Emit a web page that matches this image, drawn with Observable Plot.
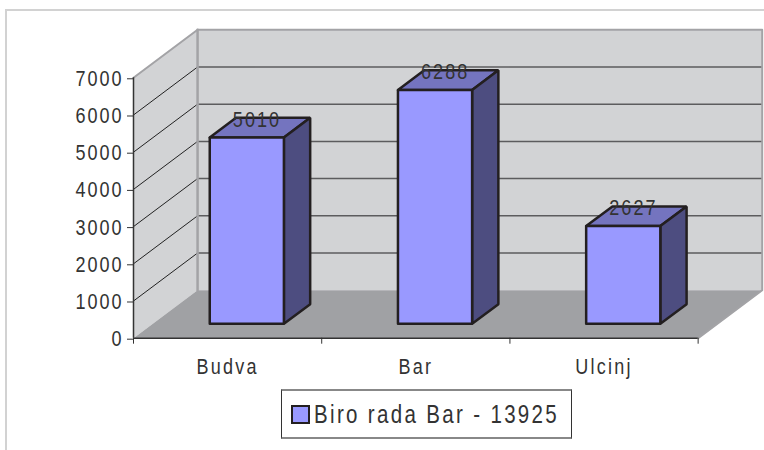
<!DOCTYPE html>
<html>
<head>
<meta charset="utf-8">
<script src="https://cdn.jsdelivr.net/npm/d3@7"></script>
<script src="https://cdn.jsdelivr.net/npm/@observablehq/plot@0.6"></script>
<style>
html,body{margin:0;padding:0;background:#fff;overflow:hidden;width:764px;height:450px}
#frame{position:absolute;left:5px;top:9px;right:0;bottom:0;border-top:2px solid #d2d2d2;border-left:2px solid #d2d2d2}
#chart{position:absolute;left:0;top:0}
#chart svg{background:transparent;display:block}
#chart g[aria-label="x-axis tick label"] text{letter-spacing:2.7px}
#chart g[aria-label="y-axis tick label"] text{letter-spacing:2.4px}
#chart g[aria-label="text"] text{letter-spacing:2.5px}
#legend{position:absolute;left:281px;top:389px;width:289px;height:46px;box-sizing:content-box;border:1px solid #333;border-top:2px solid #888;border-bottom:2px solid #888;display:flex;align-items:center;background:#fff;font-family:"Liberation Sans",Arial,sans-serif;font-size:25px;letter-spacing:2.85px;color:#333;white-space:nowrap;overflow:hidden}
#swatch{flex:none;width:15px;height:15px;background:#9999ff;border:2px solid #231f20;margin-left:9px;margin-right:4px}
#legendText{display:inline-block;transform:scaleX(.82);transform-origin:left center}
</style>
</head>
<body>
<div id="frame"></div>
<div id="chart"></div>
<div id="legend"><span id="swatch"></span><span id="legendText"></span></div>
<script>
const categories = ["Budva", "Bar", "Ulcinj"];
const values = [5010, 6288, 2627];
const seriesName = "Biro rada Bar - 13925";
const yTicks = [0, 1000, 2000, 3000, 4000, 5000, 6000, 7000];
const yMax = 7000;

// oblique projection: depth d (0 = front plane, 1 = back wall) expressed in data units
const depthX = 0.3404;
const depthY = 1290;
const barHalfWidth = 0.197;
const barFront = 0.3;
const barBack = 0.71;
const P = (x, v, d = 0) => ({x: x + d * depthX, y: v + d * depthY});
const poly = (pts) => [...pts, pts[0]];

const face = (pts, fill, stroke = "none", strokeWidth = 0) =>
  Plot.line(poly(pts), {x: "x", y: "y", fill, stroke, strokeWidth, strokeLinejoin: "miter"});
const path = (pts, stroke, strokeWidth) =>
  Plot.line(pts, {x: "x", y: "y", stroke, strokeWidth});

const wallFill = "#d2d3d5", floorFill = "#a0a1a4", edge = "#a3a3a6";
const barStroke = "#231f20", barSW = 2.5;
const marks = [];

// walls and floor
marks.push(face([P(0,0), P(0,yMax), P(0,yMax,1), P(0,0,1)], wallFill));
marks.push(face([P(0,0,1), P(0,yMax,1), P(3,yMax,1), P(3,0,1)], wallFill));
marks.push(face([P(0,0), P(3,0), P(3,0,1), P(0,0,1)], floorFill));

// gridlines
for (const t of yTicks.slice(1, -1)) {
  marks.push(path([P(0,t,1), P(3,t,1)], "#5c5c5e", 1.5));
  marks.push(path([P(0,t), P(0,t,1)], "#222", 1));
}
// wall edges
marks.push(path([P(0,yMax), P(0,yMax,1), P(3,yMax,1), P(3,0,1), P(3,0)], edge, 2));
marks.push(path([P(0,0,1), P(0,yMax,1)], edge, 2.5));

// bars
values.forEach((v, i) => {
  const c = i + 0.5, l = c - barHalfWidth, r = c + barHalfWidth;
  marks.push(face([P(l,v,barFront), P(r,v,barFront), P(r,v,barBack), P(l,v,barBack)], "#7474bf", barStroke, barSW));
  marks.push(face([P(r,0,barFront), P(r,v,barFront), P(r,v,barBack), P(r,0,barBack)], "#4d4d80", barStroke, barSW));
  marks.push(face([P(l,0,barFront), P(l,v,barFront), P(r,v,barFront), P(r,0,barFront)], "#9999ff", barStroke, barSW));
});

// value labels
const labelData = values.map((v, i) => ({...P(i + 0.5, v, (barFront + barBack) / 2), v}));
marks.push(Plot.text(labelData, {x: "x", y: "y", text: d => String(d.v), dx: -3, dy: -8, fontSize: 22, fill: "#333"}));

// axes
marks.push(Plot.axisY({ticks: yTicks, tickSize: 6, tickPadding: 4, fontSize: 22, label: null, tickFormat: d => String(d), stroke: "#333", fill: "#333", dy: 1}));
marks.push(Plot.ruleX([0], {y1: 0, y2: yMax, stroke: "#333", strokeWidth: 1.5}));
marks.push(Plot.ruleY([0], {x1: 0, x2: 3, stroke: "#333", strokeWidth: 1.5}));
marks.push(Plot.axisX({ticks: [0, 1, 2, 3], tickSize: 6, tickFormat: () => "", label: null, stroke: "#333"}));
marks.push(Plot.axisX({ticks: [0.5, 1.5, 2.5], tickSize: 0, tickPadding: 20, fontSize: 22, label: null, tickFormat: d => categories[d - 0.5], fill: "#333"}));

const chart = Plot.plot({
  width: 764,
  height: 385,
  marginLeft: 133,
  marginRight: 2.3,
  marginTop: 29.3,
  marginBottom: 47.3,
  x: {domain: [0, 3 + depthX], axis: null},
  y: {domain: [0, yMax + depthY], axis: null},
  style: {fontFamily: '"Liberation Sans", Arial, sans-serif', overflow: "visible"},
  marks
});
// the reference's glyphs are horizontally condensed
chart.querySelectorAll("text").forEach(t => {
  t.setAttribute("transform", (t.getAttribute("transform") || "") + " scale(.82,1)");
});
document.getElementById("chart").appendChild(chart);
document.getElementById("legendText").textContent = seriesName;
</script>
</body>
</html>
